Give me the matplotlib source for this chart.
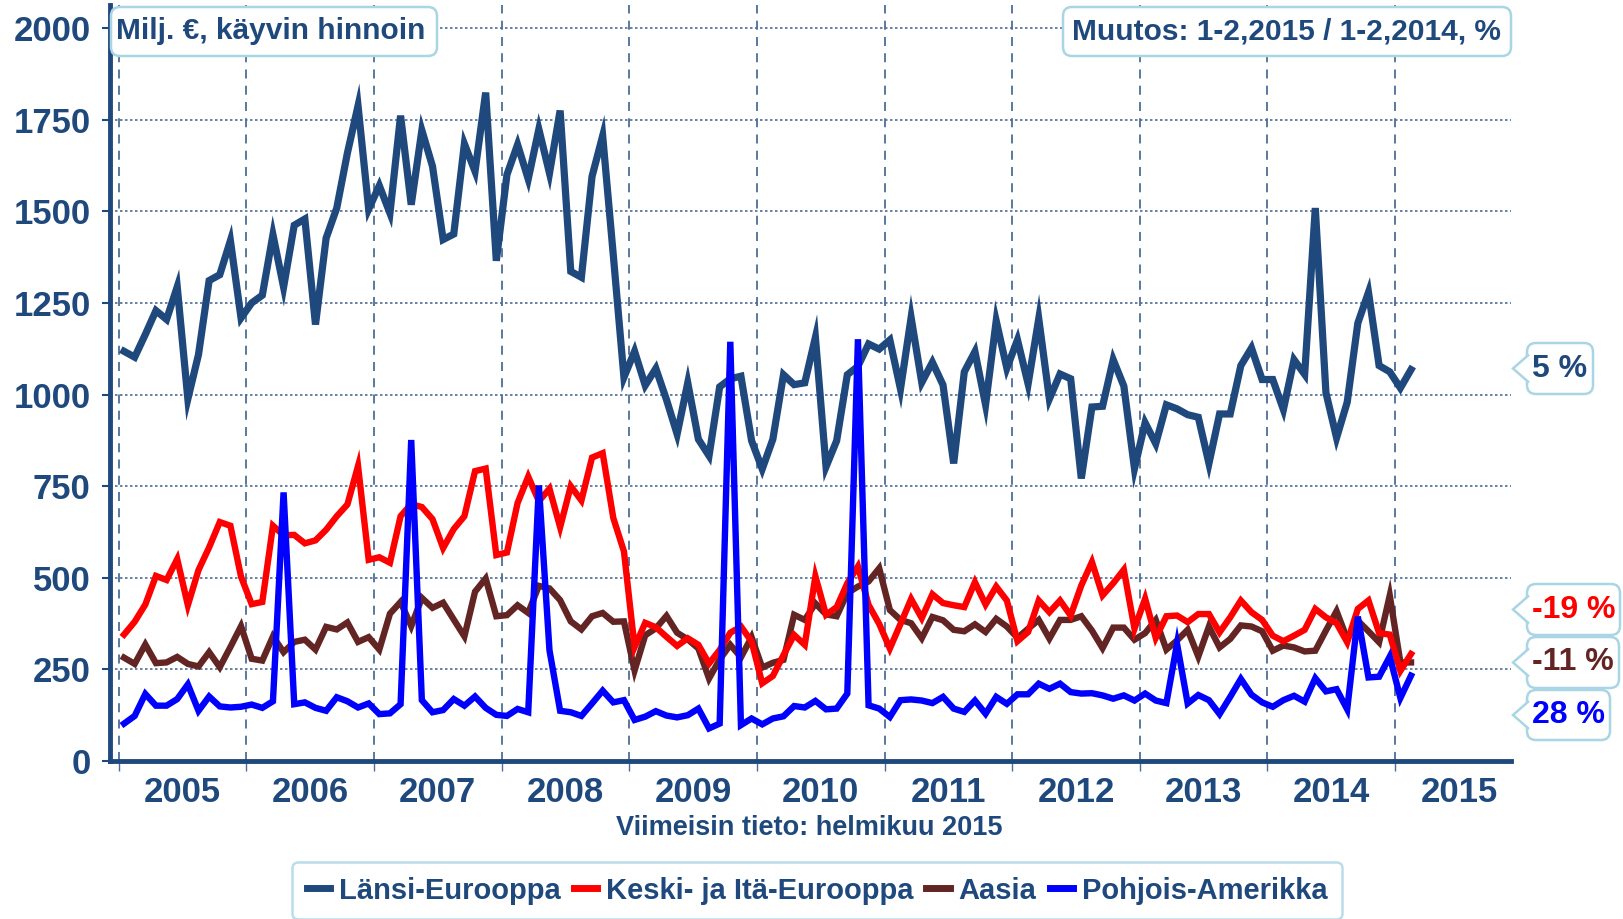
import matplotlib.pyplot as plt
import numpy as np
from matplotlib.patches import FancyBboxPatch, Polygon

plt.rcParams['font.family'] = ['Liberation Sans', 'DejaVu Sans']
plt.rcParams['font.weight'] = 'bold'

# monthly values, Jan 2005 - Feb 2015 (milj. €)
lansi = [1118, 1102, 1164, 1229, 1205, 1294, 988, 1109, 1311, 1327, 1420, 1209,
         1250, 1271, 1436, 1293, 1462, 1479, 1191, 1427, 1509, 1659, 1788, 1506,
         1570, 1495, 1761, 1518, 1721, 1623, 1423, 1438, 1684, 1609, 1824, 1365,
         1600, 1682, 1588, 1724, 1604, 1775, 1336, 1320, 1595, 1706, 1380, 1047,
         1118, 1025, 1071, 986, 892, 1032, 878, 833, 1021, 1043, 1050, 874,
         797, 878, 1054, 1027, 1032, 1156, 803, 874, 1054, 1077, 1138, 1124,
         1149, 1015, 1210, 1033, 1088, 1026, 812, 1062, 1117, 972, 1201, 1072,
         1149, 1029, 1207, 988, 1056, 1043, 771, 966, 968, 1095, 1023, 798,
         923, 866, 972, 961, 945, 938, 812, 947, 947, 1079, 1127, 1041,
         1041, 959, 1095, 1055, 1509, 1005, 882, 979, 1195, 1279, 1079, 1062,
         1018, 1068]
keski = [345, 380, 427, 505, 494, 551, 425, 521, 583, 652, 642, 503,
         428, 434, 642, 616, 617, 594, 602, 631, 668, 700, 805, 549,
         556, 541, 668, 701, 693, 660, 581, 633, 668, 791, 798, 562,
         569, 704, 776, 709, 743, 638, 750, 711, 828, 840, 663, 572,
         311, 377, 365, 339, 314, 335, 317, 266, 303, 350, 367, 326,
         212, 232, 289, 344, 317, 504, 399, 420, 485, 531, 426, 374,
         307, 374, 442, 390, 455, 431, 425, 420, 488, 427, 476, 438,
         327, 352, 438, 406, 438, 397, 479, 543, 452, 485, 522, 361,
         443, 336, 395, 397, 379, 401, 401, 351, 392, 438, 406, 385,
         342, 327, 342, 358, 415, 392, 376, 324, 415, 438, 349, 345,
         246, 292]
aasia = [282, 265, 318, 267, 269, 284, 265, 258, 297, 256, 311, 368,
         279, 274, 340, 297, 325, 331, 304, 366, 359, 378, 325, 338,
         304, 402, 434, 368, 445, 418, 432, 386, 340, 462, 498, 395,
         398, 425, 404, 478, 471, 439, 381, 359, 395, 404, 380, 381,
         247, 343, 362, 396, 350, 332, 307, 225, 277, 317, 283, 338,
         255, 268, 276, 399, 385, 430, 400, 395, 458, 476, 490, 526,
         412, 385, 376, 335, 393, 384, 358, 354, 373, 352, 388, 367,
         336, 361, 385, 334, 385, 385, 395, 356, 308, 364, 364, 331,
         349, 385, 304, 329, 358, 285, 367, 310, 333, 370, 367, 354,
         301, 315, 310, 299, 301, 356, 409, 333, 383, 354, 324, 452,
         269, 269]
pohjois = [102, 123, 183, 151, 151, 169, 209, 137, 176, 149, 146, 148,
           154, 145, 163, 733, 155, 160, 145, 137, 174, 163, 146, 157,
           128, 130, 155, 876, 166, 133, 139, 169, 151, 176, 145, 126,
           123, 142, 133, 752, 302, 137, 133, 123, 157, 192, 160, 166,
           112, 121, 136, 124, 119, 125, 143, 89, 102, 1144, 98, 116,
           100, 116, 122, 150, 146, 164, 141, 143, 184, 1151, 152, 143,
           120, 166, 168, 165, 158, 175, 143, 134, 165, 129, 175, 156,
           182, 182, 211, 197, 211, 188, 184, 185, 179, 170, 179, 165,
           184, 165, 158, 320, 157, 180, 166, 128, 175, 224, 181, 160,
           148, 166, 178, 162, 226, 190, 196, 141, 394, 228, 230, 285,
           172, 233]
years = [str(y) for y in range(2005, 2016)]
names = ['Länsi-Eurooppa', 'Keski- ja Itä-Eurooppa', 'Aasia', 'Pohjois-Amerikka']
changes = ['5 %', '-19 %', '-11 %', '28 %']

navy = '#1f497d'
red = '#ff0000'
brown = '#632523'
blue = '#0000ff'
lblue = '#a9d5e4'
gridc = '#4f6d96'

W, H = 1623, 919
fig = plt.figure(figsize=(W/100, H/100), dpi=100)
ax = fig.add_axes([110/W, 1-761/H, (1511-110)/W, (761-5)/H])

x = np.arange(len(lansi))
ax.plot(x, lansi, color=navy, lw=5.2, zorder=2, solid_joinstyle='miter', label=names[0])
ax.plot(x, keski, color=red, lw=4.6, zorder=4, solid_joinstyle='miter', label=names[1])
ax.plot(x, aasia, color=brown, lw=4.6, zorder=3, solid_joinstyle='miter', label=names[2])
ax.plot(x, pohjois, color=blue, lw=4.6, zorder=5, solid_joinstyle='miter', label=names[3])

ax.set_ylim(0, 2063)
ax.set_xlim(-1.32, 130.4)
ax.set_yticks(np.arange(0, 2001, 250))
ax.set_xticks(np.arange(len(years))*12 + 5.5)
ax.set_xticklabels(years)
ax.set_xticks(np.arange(len(years))*12 - 0.5, minor=True)
ax.tick_params(axis='y', length=6, width=1.5, color=navy, pad=8, labelsize=25, labelcolor=navy)
ax.tick_params(axis='x', which='major', length=0, pad=11, labelsize=25, labelcolor=navy)
ax.tick_params(axis='x', which='minor', length=7, width=1, color=gridc)
ax.grid(axis='y', which='major', linestyle=(0, (1.5, 1.5)), color=gridc, lw=1.2)
ax.grid(axis='x', which='minor', linestyle=(0, (5, 4)), color=gridc, lw=1.3)
for s in ['top', 'right']:
    ax.spines[s].set_visible(False)
for s in ['left', 'bottom']:
    ax.spines[s].set_color(navy)
    ax.spines[s].set_linewidth(3.5)


def box(x0, y0, x1, y1):
    p = FancyBboxPatch((x0/100, (H-y1)/100), (x1-x0)/100, (y1-y0)/100,
                       boxstyle='round,pad=0,rounding_size=0.09',
                       transform=fig.dpi_scale_trans, fc='white', ec=lblue, lw=1.8, zorder=10)
    fig.add_artist(p)


box(111, 7, 437, 56)
fig.text(116/W, 1-31/H, 'Milj. €, käyvin hinnoin', fontsize=21.5, color=navy, va='center', ha='left', zorder=11)
box(1063, 7, 1511, 56)
fig.text(1286/W, 1-31/H, 'Muutos: 1-2,2015 / 1-2,2014, %', fontsize=21.5, color=navy, va='center', ha='center', zorder=11)

fig.text(809/W, 1-828/H, 'Viimeisin tieto: helmikuu 2015', fontsize=19.5, color=navy, ha='center', va='center')

# change callouts
call = [(343, 394, 1593, navy), (584, 635, 1620, red), (637, 688, 1619, brown), (690, 740, 1610, blue)]
for (y0, y1, x1, c), t in zip(call, changes):
    box(1527, y0, x1, y1)
    yc = (y0 + y1)/2
    tri = Polygon([(1529/100, (H-yc+14)/100), (1513/100, (H-yc)/100), (1529/100, (H-yc-14)/100)],
                  closed=False, transform=fig.dpi_scale_trans, fc='white', ec=lblue, lw=1.8, zorder=12)
    fig.add_artist(tri)
    fig.text((1527+x1)/2/W, 1-yc/H, t, fontsize=23, color=c, ha='center', va='center', zorder=13)

leg = fig.legend(loc='upper center', bbox_to_anchor=(817/W, 1-862/H), ncol=4, fontsize=21,
                 handlelength=0.8, handletextpad=0.3, columnspacing=0.45, borderpad=0.5,
                 borderaxespad=0, frameon=True, fancybox=True, edgecolor=lblue, labelcolor=navy)
leg.get_frame().set_linewidth(1.8)
for h in leg.get_lines():
    h.set_linewidth(5)

fig.savefig('out.png', dpi=100)
